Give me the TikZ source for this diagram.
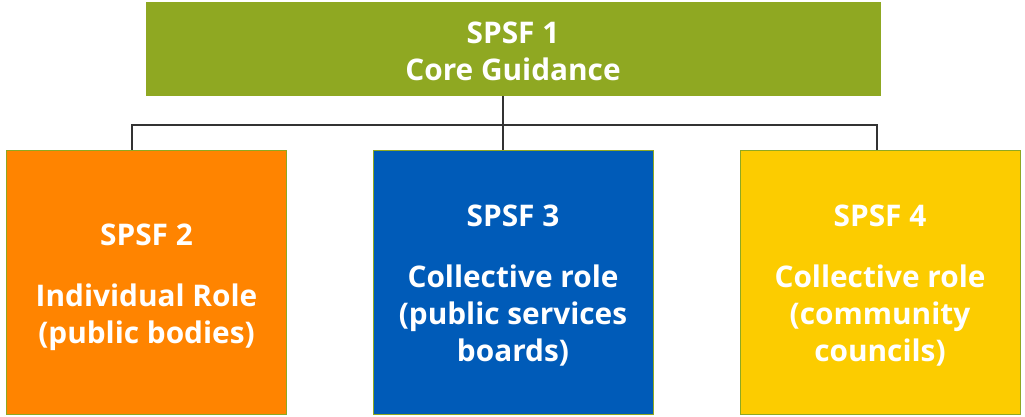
\documentclass[tikz,border=0pt]{standalone}
\usepackage{fontspec}
\setmainfont{Open Sans}
\definecolor{cgreen}{HTML}{8FA822}
\definecolor{corange}{HTML}{FF8400}
\definecolor{cblue}{HTML}{005BB8}
\definecolor{cyellow}{HTML}{FCCC00}
\definecolor{cline}{HTML}{333333}
\tikzset{
  box/.style={draw=cgreen, line width=1pt, inner sep=0pt, minimum width=280pt, minimum height=264pt},
  topbox/.style={box, fill=cgreen, minimum width=734pt, minimum height=93pt},
  label text/.style={inner sep=0pt, align=center, text=white,
    font=\fontsize{29.8}{37}\selectfont\bfseries},
  conn/.style={draw=cline, line width=1.5pt}
}
\begin{document}
\begin{tikzpicture}[x=1pt,y=-1pt]
\useasboundingbox (0,0) rectangle (1025,417);
\node[topbox] (top) at (513,49.5) {};
\node[box, fill=corange] (o) at (146.5,282) {};
\node[box, fill=cblue] (b) at (513,282) {};
\node[box, fill=cyellow] (y) at (880,282) {};
\node[label text] (topt) at ([yshift=-2pt]top.center) {SPSF 1\\Core Guidance};
\node[label text] (ot) at ([yshift=-5pt]o.center) {SPSF 2\\[24pt]Individual Role\\(public bodies)};
\node[label text] (bt) at ([yshift=-4pt]b.center) {SPSF 3\\[24pt]Collective role\\(public services\\boards)};
\node[label text] (yt) at ([yshift=-4pt]y.center) {SPSF 4\\[24pt]Collective role\\(community\\councils)};
\coordinate (bl) at (132,125);
\coordinate (br) at (877,125);
\coordinate (j) at (503,125);
\draw[conn] (bl |- o.north) -- (bl) -- (br) -- (br |- y.north);
\draw[conn] (j |- top.south) -- (j) -- (j |- b.north);
\end{tikzpicture}
\end{document}
